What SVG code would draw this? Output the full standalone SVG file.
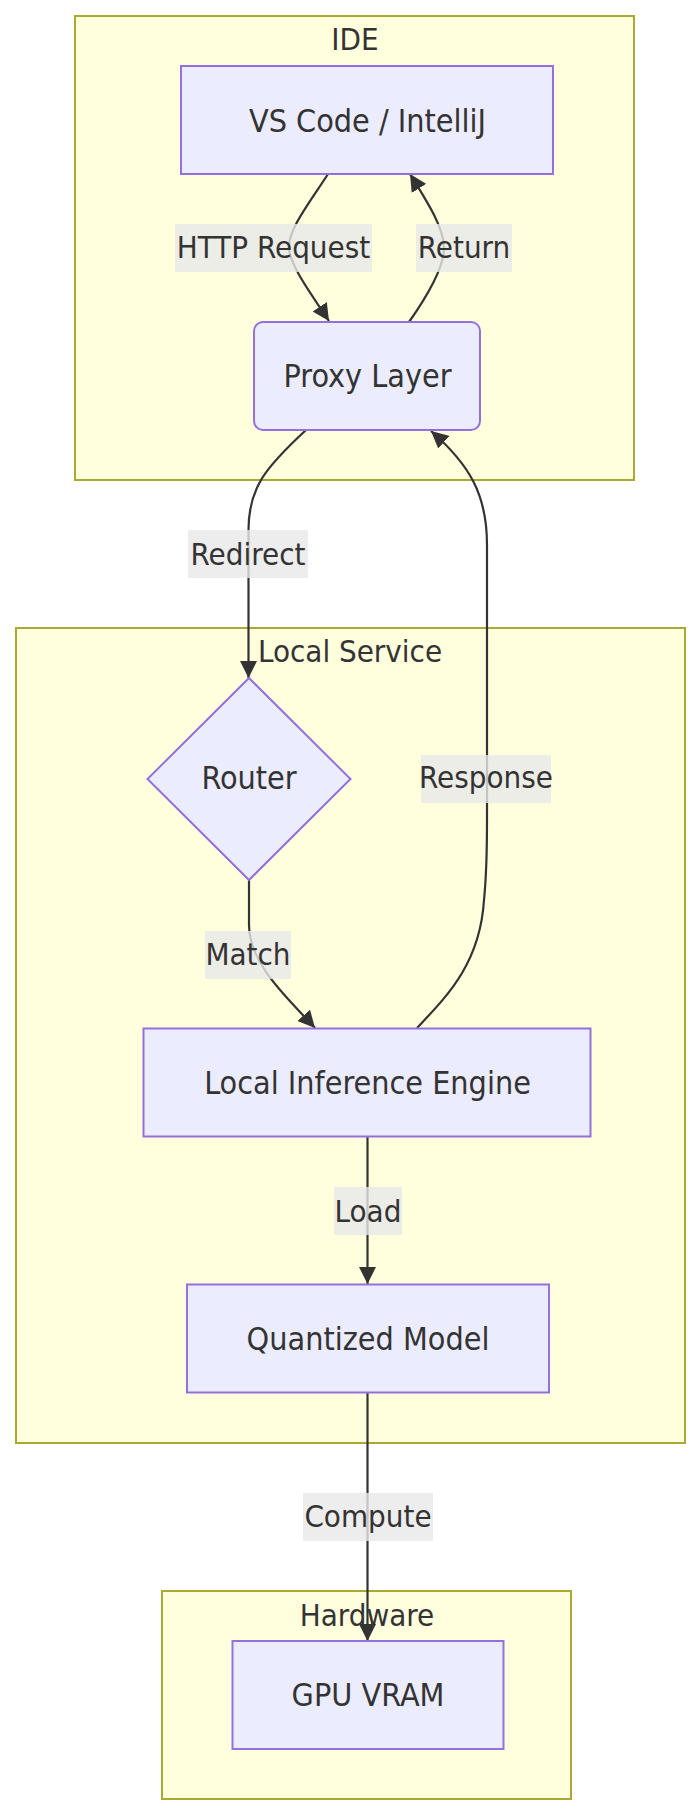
<svg xmlns="http://www.w3.org/2000/svg" width="699" height="1814" viewBox="0 0 699 1814">
<style>
text{font-family:"DejaVu Sans Condensed","DejaVu Sans",sans-serif;font-stretch:condensed;font-size:31px;fill:#333333;text-anchor:middle}
.nt{font-size:32px}
.cluster{fill:#ffffde;stroke:#aaaa33;stroke-width:2}
.node{fill:#ececff;stroke:#9370db;stroke-width:2}
.edge{fill:none;stroke:#333333;stroke-width:2.2;marker-end:url(#arrow)}
.lbl{fill:#e8e8e8;fill-opacity:0.8}
</style>
<defs>
<marker id="arrow" viewBox="0 0 10 10" refX="10" refY="5" markerUnits="userSpaceOnUse" markerWidth="17" markerHeight="17" orient="auto">
<path d="M0,0 L10,5 L0,10 z" fill="#333333"/>
</marker>
</defs>
<g id="cluster-ide"><rect class="cluster" x="75" y="16" width="559" height="464"/><text x="355" y="50">IDE</text></g>
<g id="cluster-local"><rect class="cluster" x="16" y="628" width="669" height="815"/><text x="350" y="662">Local Service</text></g>
<g id="cluster-hw"><rect class="cluster" x="162" y="1591" width="409" height="208"/><text x="367" y="1626">Hardware</text></g>
<g id="connectors">
<path class="edge" d="M328,174 C308,205 288,230 289,248 C290,266 312,295 329,321"/>
<path class="edge" d="M409,322 C428,295 444,268 444,248 C444,228 428,203 410,174"/>
<path class="edge" d="M306,430 C265,468 248.5,488 248.5,530 L248.5,678"/>
<path class="edge" d="M249,880 L249,925 C249,965 290,1000 315,1028"/>
<path class="edge" d="M417,1028 C445,998 480,965 484,900 C487,870 487,850 487,820 L487,545 C487,495 470,465 431,431"/>
<path class="edge" d="M367.5,1137 L367.5,1284"/>
<path class="edge" d="M367.5,1393 L367.5,1641"/>
</g>
<g id="edge-labels">
<g><rect class="lbl" x="175" y="224" width="197" height="48"/><text x="273.5" y="258">HTTP Request</text></g>
<g><rect class="lbl" x="416" y="224" width="96" height="48"/><text x="464" y="258">Return</text></g>
<g><rect class="lbl" x="188" y="530" width="120" height="48"/><text x="248" y="565">Redirect</text></g>
<g><rect class="lbl" x="421" y="755" width="130" height="48"/><text x="486" y="788">Response</text></g>
<g><rect class="lbl" x="205" y="931" width="86" height="48"/><text x="248" y="965">Match</text></g>
<g><rect class="lbl" x="334" y="1187" width="68" height="48"/><text x="368" y="1221.5">Load</text></g>
<g><rect class="lbl" x="303" y="1493" width="130" height="48"/><text x="368" y="1527">Compute</text></g>
</g>
<g id="node-vscode"><rect class="node" x="181" y="66" width="372" height="108"/><text class="nt" x="367.5" y="131.5">VS Code / IntelliJ</text></g>
<g id="node-proxy"><rect class="node" x="254" y="322" width="226" height="108" rx="9" ry="9"/><text class="nt" x="367.5" y="387">Proxy Layer</text></g>
<g id="node-router"><polygon class="node" points="249,678 350.5,779 249,880 147.5,779"/><text class="nt" x="249" y="788.5">Router</text></g>
<g id="node-engine"><rect class="node" x="143.5" y="1028.5" width="447" height="108"/><text class="nt" x="367.5" y="1093.5">Local Inference Engine</text></g>
<g id="node-model"><rect class="node" x="187" y="1284.5" width="362" height="108"/><text class="nt" x="368" y="1349.5">Quantized Model</text></g>
<g id="node-gpu"><rect class="node" x="232.5" y="1641" width="271" height="108"/><text class="nt" x="368" y="1705.5">GPU VRAM</text></g>
</svg>
